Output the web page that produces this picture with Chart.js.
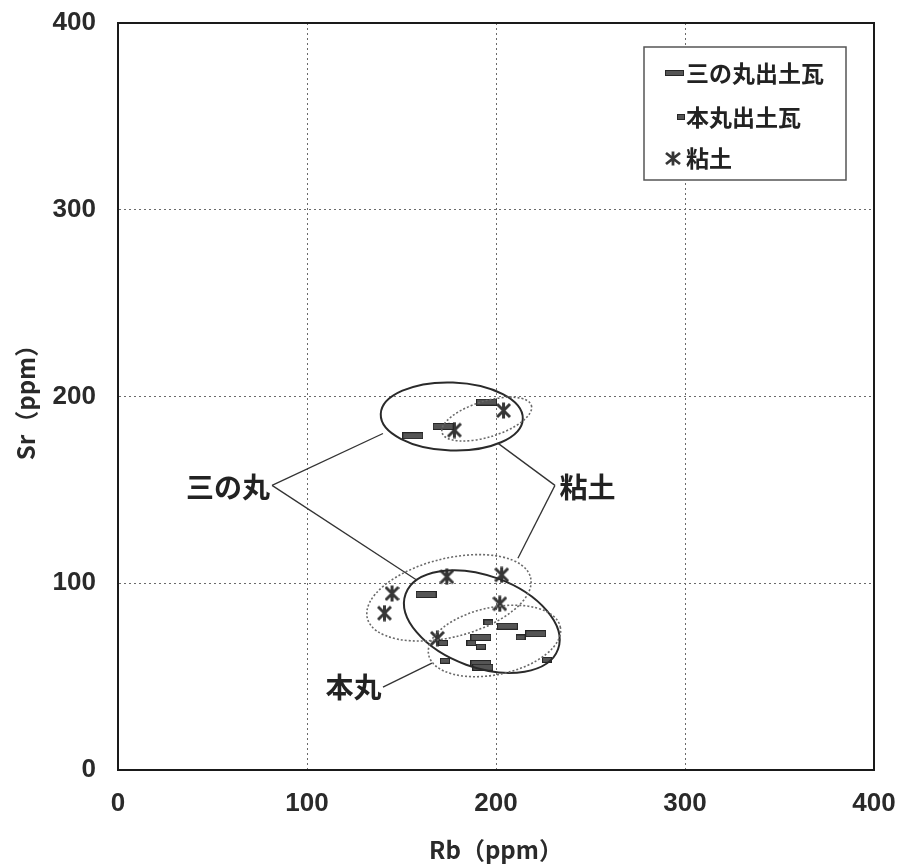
<!DOCTYPE html>
<html>
<head>
<meta charset="utf-8">
<script src="https://cdn.jsdelivr.net/npm/chart.js@4.4.1/dist/chart.umd.min.js"></script>
<style>
  html, body { margin: 0; padding: 0; background: #fff; }
  #wrap { width: 903px; height: 866px; position: relative; }
</style>
</head>
<body>
<div id="wrap"><canvas id="c" width="903" height="866"></canvas></div>
<script>
// ---- data ----
const seriesNames = ['三の丸出土瓦', '本丸出土瓦', '粘土'];
const sannomaruRb = [156, 172, 195, 163, 206, 192, 221, 192, 193];
const sannomaruSr = [179, 184, 197, 94, 77, 71, 73, 57, 55];
const honmaruRb = [196, 187, 192, 213, 173, 227, 172];
const honmaruSr = [79, 68, 66, 71, 58.5, 59, 68];
const nendoRb = [178, 204, 174, 203, 145, 141, 202, 169];
const nendoSr = [182, 192.5, 103.5, 104.5, 94.5, 84, 89, 70.5];
const xTicks = [0, 100, 200, 300, 400];
const yTicks = [0, 100, 200, 300, 400];
const xTitle = 'Rb（ppm）';
const yTitle = 'Sr（ppm）';

// group ellipses in data units: centre (Rb, Sr), semi-axes (Rb units), angle (deg)
const ellipseCx = [176.6, 195.1, 192.5, 175.1, 199.2];
const ellipseCy = [189.3, 187.9, 79.5, 92.2, 69.1];
const ellipseA = [37.6, 24.7, 42.9, 44.5, 35.6];
const ellipseB = [18.0, 9.5, 24.3, 20.8, 17.8];
const ellipseAngle = [2, -17, 20, -14, -12];
const ellipseDotted = [false, true, false, true, true];

// annotation labels and leader lines (data units)
const labelText = ['三の丸', '粘土', '本丸'];
const labelX = [81.5, 232.5, 140.5];
const labelY = [151.5, 151.5, 44.0];
const labelAlign = ['right', 'left', 'right'];
const leaderFromX = [81.5, 81.5, 231.2, 231.2, 140.2];
const leaderFromY = [152.4, 152.4, 152.4, 152.4, 44.4];
const leaderToX = [140.2, 158.2, 201.1, 211.6, 166.1];
const leaderToY = [180.2, 101.6, 174.9, 113.4, 57.2];

// ---- marker images ----
function rectMarker(w, h) {
  const c = document.createElement('canvas');
  c.width = w; c.height = h;
  const g = c.getContext('2d');
  g.fillStyle = '#555';
  g.fillRect(0, 0, w, h);
  g.strokeStyle = '#262626';
  g.lineWidth = 1;
  g.strokeRect(0.5, 0.5, w - 1, h - 1);
  return c;
}
function starMarker(w, h, lw) {
  const c = document.createElement('canvas');
  c.width = w; c.height = h;
  const g = c.getContext('2d');
  g.strokeStyle = '#363636';
  g.lineWidth = lw;
  g.lineCap = 'butt';
  const cx = w / 2;
  g.beginPath();
  g.moveTo(cx, 0.5); g.lineTo(cx, h - 0.5);
  g.moveTo(1, 2); g.lineTo(w - 1, h - 2);
  g.moveTo(w - 1, 2); g.lineTo(1, h - 2);
  g.stroke();
  return c;
}
const mkSan = rectMarker(21, 7);
const mkHon = rectMarker(10, 6);
const mkNen = starMarker(15, 17, 3);
const lgSan = rectMarker(19, 6);
const lgHon = rectMarker(8, 6);
const lgNen = starMarker(16, 15, 2.8);

function pts(xs, ys) { return xs.map((x, i) => ({ x: x, y: ys[i] })); }

const CJK = '"Noto Sans CJK JP", "Noto Sans", sans-serif';

const annotationPlugin = {
  id: 'annot',
  afterDatasetsDraw(chart) {
    const { ctx, scales } = chart;
    const xs = scales.x, ys = scales.y;
    const ppu = Math.abs(xs.getPixelForValue(1) - xs.getPixelForValue(0));
    ctx.save();
    for (let i = 0; i < ellipseCx.length; i++) {
      ctx.beginPath();
      ctx.ellipse(xs.getPixelForValue(ellipseCx[i]), ys.getPixelForValue(ellipseCy[i]),
        ellipseA[i] * ppu, ellipseB[i] * ppu, ellipseAngle[i] * Math.PI / 180, 0, Math.PI * 2);
      if (ellipseDotted[i]) {
        ctx.setLineDash([2, 2]);
        ctx.lineWidth = 1.6;
        ctx.strokeStyle = '#6a6a6a';
      } else {
        ctx.setLineDash([]);
        ctx.lineWidth = 2;
        ctx.strokeStyle = '#2a2a2a';
      }
      ctx.stroke();
    }
    ctx.setLineDash([]);
    ctx.strokeStyle = '#333';
    ctx.lineWidth = 1.3;
    for (let i = 0; i < leaderFromX.length; i++) {
      ctx.beginPath();
      ctx.moveTo(xs.getPixelForValue(leaderFromX[i]), ys.getPixelForValue(leaderFromY[i]));
      ctx.lineTo(xs.getPixelForValue(leaderToX[i]), ys.getPixelForValue(leaderToY[i]));
      ctx.stroke();
    }
    ctx.fillStyle = '#222';
    ctx.font = 'bold 28px ' + CJK;
    ctx.textBaseline = 'middle';
    for (let i = 0; i < labelText.length; i++) {
      ctx.textAlign = labelAlign[i];
      const dx = labelAlign[i] === 'right' ? -2 : 2;
      ctx.fillText(labelText[i], xs.getPixelForValue(labelX[i]) + dx, ys.getPixelForValue(labelY[i]));
    }
    ctx.restore();
  },
  afterDraw(chart) {
    const { ctx, chartArea: a } = chart;
    ctx.save();
    ctx.strokeStyle = '#1a1a1a';
    ctx.lineWidth = 2;
    ctx.strokeRect(a.left, a.top, a.right - a.left, a.bottom - a.top);
    const bw = 202, bh = 133;
    const bx = a.right - 28 - bw, by = a.top + 24;
    ctx.fillStyle = '#fff';
    ctx.fillRect(bx, by, bw, bh);
    ctx.strokeStyle = '#555';
    ctx.lineWidth = 1.5;
    ctx.strokeRect(bx, by, bw, bh);
    const icons = [lgSan, lgHon, lgNen];
    const iconCx = [bx + 30, bx + 37, bx + 29];
    const rowY = [by + 26, by + 70, by + 111];
    ctx.font = 'bold 23px ' + CJK;
    ctx.fillStyle = '#222';
    ctx.textAlign = 'left';
    ctx.textBaseline = 'middle';
    chart.data.datasets.forEach((ds, i) => {
      const im = icons[i];
      ctx.drawImage(im, Math.round(iconCx[i] - im.width / 2), Math.round(rowY[i] - im.height / 2));
      ctx.fillText(ds.label, bx + 42, rowY[i]);
    });
    ctx.restore();
  }
};

new Chart(document.getElementById('c'), {
  type: 'scatter',
  data: {
    datasets: [
      { label: seriesNames[0], data: pts(sannomaruRb, sannomaruSr), pointStyle: mkSan, pointRadius: 10, backgroundColor: '#555', borderColor: '#222' },
      { label: seriesNames[1], data: pts(honmaruRb, honmaruSr), pointStyle: mkHon, pointRadius: 5, backgroundColor: '#555', borderColor: '#222' },
      { label: seriesNames[2], data: pts(nendoRb, nendoSr), pointStyle: mkNen, pointRadius: 8, backgroundColor: '#333', borderColor: '#333' }
    ]
  },
  options: {
    responsive: false,
    animation: false,
    devicePixelRatio: 1,
    layout: { padding: { left: 0, right: 29, top: 23, bottom: 0 } },
    plugins: { legend: { display: false }, tooltip: { enabled: false } },
    scales: {
      x: {
        type: 'linear', min: 0, max: 400,
        afterBuildTicks(s) { s.ticks = xTicks.map(v => ({ value: v })); },
        afterFit(s) { s.height = 96; s.paddingLeft = 0; s.paddingRight = 0; },
        grid: { color: '#6a6a6a', lineWidth: 1, drawTicks: false },
        border: { display: true, color: '#1a1a1a', width: 2, dash: [2, 3] },
        ticks: { padding: 18, color: '#2a2a2a', font: { family: '"Liberation Sans Narrow", "Liberation Sans", Arial', size: 26, weight: 'bold' } },
        title: { display: true, text: xTitle, color: '#2a2a2a', padding: { top: 0, bottom: 2 }, font: { family: CJK, size: 24, weight: 'bold' } }
      },
      y: {
        type: 'linear', min: 0, max: 400,
        afterBuildTicks(s) { s.ticks = yTicks.map(v => ({ value: v })); },
        afterFit(s) { s.width = 118; s.paddingTop = 0; s.paddingBottom = 0; },
        grid: { color: '#6a6a6a', lineWidth: 1, drawTicks: false },
        border: { display: true, color: '#1a1a1a', width: 2, dash: [2, 3] },
        ticks: { padding: 22, color: '#2a2a2a', font: { family: '"Liberation Sans", Arial', size: 26, weight: 'bold' } },
        title: { display: true, text: yTitle, color: '#2a2a2a', padding: { top: 11, bottom: 0 }, font: { family: CJK, size: 24, weight: 'bold' } }
      }
    }
  },
  plugins: [annotationPlugin]
});
</script>
</body>
</html>
